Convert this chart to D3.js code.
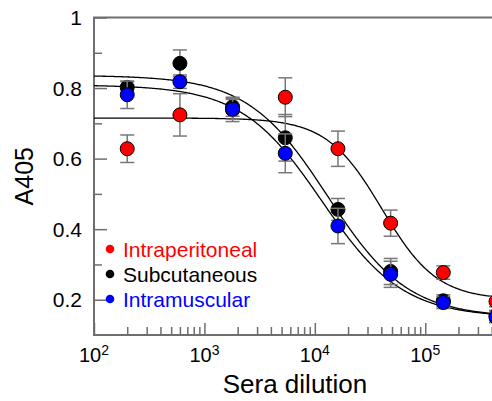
<!DOCTYPE html>
<html><head><meta charset="utf-8">
<script src="https://cdn.jsdelivr.net/npm/d3@7"></script>
<style>
html,body{margin:0;padding:0;background:#fff;overflow:hidden}
text{font-family:"Liberation Sans",Arial,sans-serif}
</style></head>
<body><svg id="c" width="492" height="401"></svg>
<script>
// ---- data ----
const dilutions = [200, 600, 1800, 5400, 16200, 48600, 145800, 437400];
const seriesNames = ["Intraperitoneal", "Subcutaneous", "Intramuscular"];
const seriesColors = ["#ff0000", "#000000", "#0000ff"];
const ipValues = [0.628, 0.724, 0.738, 0.774, 0.628, 0.417, 0.277, 0.195];
const ipErrors = [0.039, 0.060, 0.033, 0.055, 0.050, 0.037, 0.019, 0.015];
const scValues = [0.802, 0.870, 0.747, 0.659, 0.456, 0.280, 0.197, 0.155];
const scErrors = [0.016, 0.038, 0.027, 0.066, 0.031, 0.037, 0.017, 0.015];
const imValues = [0.781, 0.818, 0.740, 0.615, 0.409, 0.272, 0.192, 0.150];
const imErrors = [0.039, 0.019, 0.028, 0.055, 0.050, 0.037, 0.017, 0.015];
// four-parameter logistic fit: [top, bottom, EC50, hill]
const ipFit = [0.715, 0.200, 40500, 1.74];
const scFit = [0.836, 0.150, 13100, 1.20];
const imFit = [0.809, 0.150, 11600, 1.19];
const xMajorTicks = [100, 1000, 10000, 100000];
const xTickExponents = ["2", "3", "4", "5"];
const yMajorTicks = [0.2, 0.4, 0.6, 0.8, 1.0];
const yTickLabels = ["0.2", "0.4", "0.6", "0.8", "1"];
const yMinorTicks = [0.3, 0.5, 0.7, 0.9];
const xTitle = "Sera dilution";
const yTitle = "A405";

const series = [
  {name: seriesNames[0], color: seriesColors[0], values: ipValues, errors: ipErrors, fit: ipFit},
  {name: seriesNames[1], color: seriesColors[1], values: scValues, errors: scErrors, fit: scFit},
  {name: seriesNames[2], color: seriesColors[2], values: imValues, errors: imErrors, fit: imFit}
];

// ---- layout ----
const L = 94, T = 17.5, B = 335, R = 496;
const svg = d3.select("#c");
const x = d3.scaleLog().domain([100, 437400]).range([L, R]);
const y = d3.scaleLinear().domain([0.1, 1]).range([B, T]);
const axisColor = "#6e6e6e";

svg.append("defs").append("clipPath").attr("id", "clip")
  .append("rect").attr("x", L).attr("y", T).attr("width", R - L).attr("height", B - T);

// minor x ticks
const xMinor = [];
[100, 1000, 10000, 100000].forEach(d => { for (let k = 2; k <= 9; k++) if (d * k <= 437400) xMinor.push(d * k); });

const g = svg.append("g");
// x axis (inward ticks)
g.append("g").attr("transform", `translate(0,${B})`)
  .call(d3.axisBottom(x).tickValues(xMajorTicks).tickSize(-12).tickSizeOuter(0).tickFormat(""))
  .call(a => a.select(".domain").remove())
  .selectAll("line").attr("stroke", axisColor).attr("stroke-width", 1.5);
g.append("g").attr("transform", `translate(0,${B})`)
  .call(d3.axisBottom(x).tickValues(xMinor).tickSize(-8).tickSizeOuter(0).tickFormat(""))
  .call(a => a.select(".domain").remove())
  .selectAll("line").attr("stroke", axisColor).attr("stroke-width", 1.5);
// y axis (inward ticks)
g.append("g").attr("transform", `translate(${L},0)`)
  .call(d3.axisLeft(y).tickValues(yMajorTicks).tickSize(-13).tickSizeOuter(0).tickFormat(""))
  .call(a => a.select(".domain").remove())
  .selectAll("line").attr("stroke", axisColor).attr("stroke-width", 1.5);
g.append("g").attr("transform", `translate(${L},0)`)
  .call(d3.axisLeft(y).tickValues(yMinorTicks).tickSize(-8).tickSizeOuter(0).tickFormat(""))
  .call(a => a.select(".domain").remove())
  .selectAll("line").attr("stroke", axisColor).attr("stroke-width", 1.5);

// frame
g.append("path")
  .attr("d", `M${R},${T}H${L}V${B}H${R}`)
  .attr("fill", "none").attr("stroke", axisColor).attr("stroke-width", 2);

// y tick labels
g.selectAll(".ylab").data(yMajorTicks).join("text")
  .attr("x", L - 12).attr("y", d => y(d)).attr("dy", "0.36em")
  .attr("text-anchor", "end").attr("font-size", 21).attr("fill", "#000")
  .text((d, i) => yTickLabels[i]);

// x tick labels 10^n
xMajorTicks.forEach((d, i) => {
  const t = g.append("text").attr("x", x(d)).attr("y", 362).attr("text-anchor", "middle")
    .attr("font-size", 20).attr("fill", "#000");
  t.append("tspan").text("10");
  t.append("tspan").attr("font-size", 14).attr("dy", -7).text(xTickExponents[i]);
});

// axis titles
g.append("text").attr("x", (L + R) / 2).attr("y", 393).attr("text-anchor", "middle")
  .attr("font-size", 26).attr("fill", "#000").text(xTitle);
g.append("text").attr("transform", `translate(33,${(T + B) / 2}) rotate(-90)`)
  .attr("text-anchor", "middle").attr("font-size", 25).attr("fill", "#000").text(yTitle);

// fit curves
const plot = svg.append("g").attr("clip-path", "url(#clip)");
const curveX = d3.range(0, 401).map(i => Math.pow(10, 2 + i * (Math.log10(437400) - 2) / 400));
const logistic = (f, d) => f[1] + (f[0] - f[1]) / (1 + Math.pow(d / f[2], f[3]));
series.forEach(s => {
  plot.append("path")
    .datum(curveX)
    .attr("d", d3.line().x(d => x(d)).y(d => y(logistic(s.fit, d))))
    .attr("fill", "none").attr("stroke", "#000").attr("stroke-width", 1.3);
});

// error bars and points
const pts = svg.append("g");
series.forEach(s => {
  const eg = pts.append("g").attr("stroke", "#777").attr("stroke-width", 1.5).attr("fill", "none");
  dilutions.forEach((d, i) => {
    const cx = x(d), y1 = y(s.values[i] + s.errors[i]), y2 = y(s.values[i] - s.errors[i]);
    eg.append("line").attr("x1", cx).attr("x2", cx).attr("y1", y1).attr("y2", y2);
    eg.append("line").attr("x1", cx - 7).attr("x2", cx + 7).attr("y1", y1).attr("y2", y1);
    eg.append("line").attr("x1", cx - 7).attr("x2", cx + 7).attr("y1", y2).attr("y2", y2);
  });
  pts.append("g").selectAll("circle").data(dilutions).join("circle")
    .attr("cx", d => x(d)).attr("cy", (d, i) => y(s.values[i])).attr("r", 7)
    .attr("fill", s.color).attr("stroke", "#000").attr("stroke-width", 1);
});

// legend
const lg = svg.append("g");
series.forEach((s, i) => {
  const ly = 249 + i * 25;
  lg.append("circle").attr("cx", 110).attr("cy", ly).attr("r", 4.3).attr("fill", s.color);
  lg.append("text").attr("x", 123).attr("y", ly).attr("dy", "0.36em")
    .attr("font-size", 21).attr("fill", s.color).text(s.name);
});
</script></body></html>
